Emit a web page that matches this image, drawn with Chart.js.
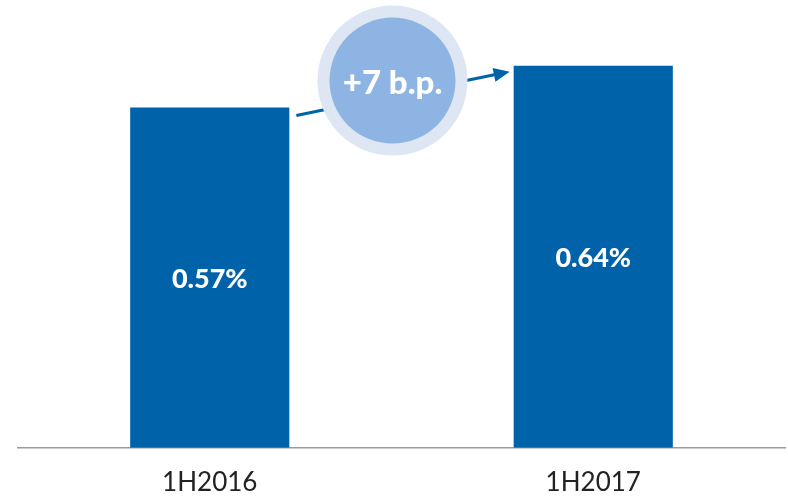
<!DOCTYPE html>
<html>
<head>
<meta charset="utf-8">
<script src="https://cdn.jsdelivr.net/npm/chart.js@4"></script>
<style>
  html, body { margin: 0; padding: 0; background: #fff; }
  #wrap { width: 788px; height: 496px; position: relative; }
</style>
</head>
<body>
<div id="wrap"><canvas id="chart"></canvas></div>
<script>
const categories = ['1H2016', '1H2017'];
const ratios = [0.57, 0.64];
const valueLabels = ['0.57%', '0.64%'];
const changeLabel = '+7 b.p.';

const BAR_COLOR = '#0062a8';
const FONT = 'Lato, "Open Sans", sans-serif';

// value labels centred inside each bar
const barLabels = {
  id: 'barLabels',
  afterDatasetsDraw(chart) {
    const ctx = chart.ctx;
    const meta = chart.getDatasetMeta(0);
    ctx.save();
    ctx.fillStyle = '#fff';
    ctx.font = '900 27px ' + FONT;
    ctx.textAlign = 'center';
    ctx.textBaseline = 'middle';
    meta.data.forEach((bar, i) => {
      const p = bar.getProps(['x', 'y', 'base'], true);
      ctx.fillText(valueLabels[i], p.x, (p.y + p.base) / 2 + 2);
    });
    ctx.restore();
  }
};

// arrow between bar tops with the change bubble on it
const changeBubble = {
  id: 'changeBubble',
  afterDatasetsDraw(chart) {
    const ctx = chart.ctx;
    const meta = chart.getDatasetMeta(0);
    const a = meta.data[0].getProps(['x', 'y', 'width'], true);
    const b = meta.data[1].getProps(['x', 'y', 'width'], true);
    const x0 = a.x + a.width / 2 + 7, y0 = a.y + 8;
    const x1 = b.x - b.width / 2 - 4, y1 = b.y + 6;
    const ang = Math.atan2(y1 - y0, x1 - x0);
    ctx.save();
    ctx.strokeStyle = BAR_COLOR;
    ctx.fillStyle = BAR_COLOR;
    ctx.lineWidth = 3;
    ctx.beginPath();
    ctx.moveTo(x0, y0);
    ctx.lineTo(x1 - 12 * Math.cos(ang), y1 - 12 * Math.sin(ang));
    ctx.stroke();
    ctx.beginPath();
    ctx.moveTo(x1, y1);
    ctx.lineTo(x1 - 16 * Math.cos(ang) + 7 * Math.sin(ang), y1 - 16 * Math.sin(ang) - 7 * Math.cos(ang));
    ctx.lineTo(x1 - 16 * Math.cos(ang) - 7 * Math.sin(ang), y1 - 16 * Math.sin(ang) + 7 * Math.cos(ang));
    ctx.closePath();
    ctx.fill();

    const cx = (a.x + b.x) / 2 - 9;
    const cy = chart.scales.y.getPixelForValue(0.615);
    ctx.fillStyle = '#dde6f2';
    ctx.beginPath();
    ctx.arc(cx, cy, 75, 0, Math.PI * 2);
    ctx.fill();
    ctx.fillStyle = '#8eb4e3';
    ctx.beginPath();
    ctx.arc(cx, cy, 63, 0, Math.PI * 2);
    ctx.fill();
    ctx.fillStyle = '#fff';
    ctx.font = '900 33px ' + FONT;
    ctx.textAlign = 'center';
    ctx.textBaseline = 'middle';
    ctx.fillText(changeLabel, cx, cy + 3);
    ctx.restore();
  }
};

new Chart(document.getElementById('chart'), {
  type: 'bar',
  data: {
    labels: categories,
    datasets: [{
      data: ratios,
      backgroundColor: BAR_COLOR,
      barPercentage: 0.415,
      categoryPercentage: 1
    }]
  },
  options: {
    responsive: true,
    maintainAspectRatio: false,
    animation: false,
    layout: { padding: { left: 18, right: 3, top: 0, bottom: -21 } },
    plugins: {
      legend: { display: false },
      tooltip: { enabled: false }
    },
    scales: {
      x: {
        grid: { display: false, drawTicks: false },
        border: { display: true, color: '#9a9a9a', width: 1.5 },
        ticks: { color: '#222', padding: 19, font: { family: FONT, size: 26 } }
      },
      y: { display: false, min: 0, max: 0.75 }
    }
  },
  plugins: [barLabels, changeBubble]
});
</script>
</body>
</html>
